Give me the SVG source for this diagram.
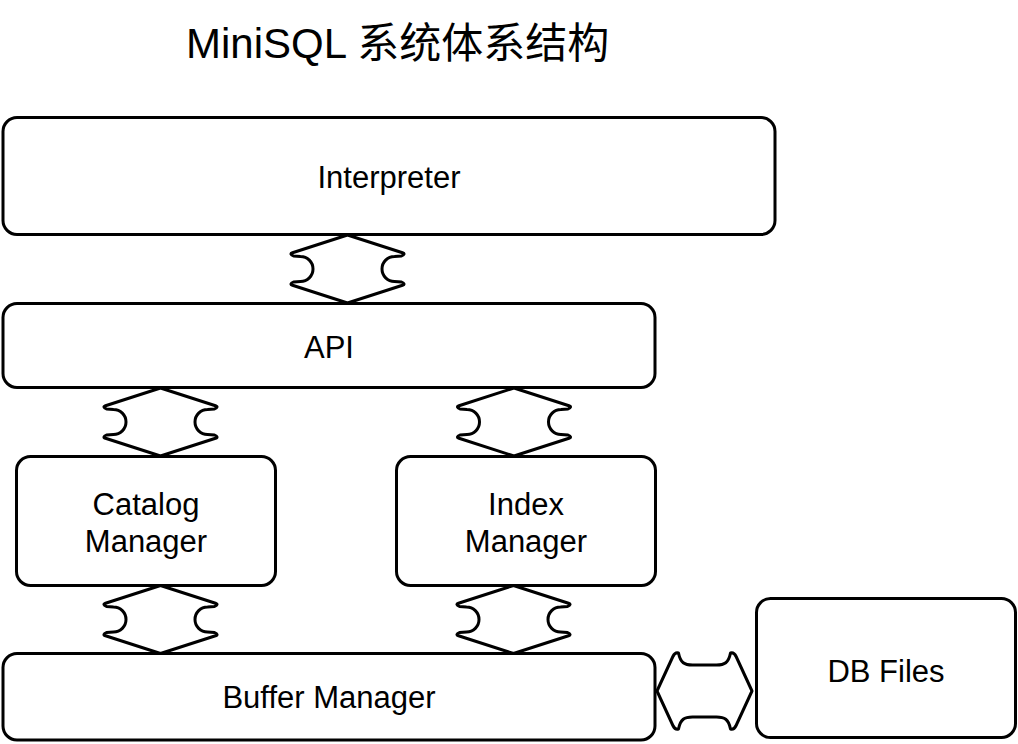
<svg xmlns="http://www.w3.org/2000/svg" width="1018" height="744" viewBox="0 0 1018 744">
<style>
.box{fill:#fff;stroke:#000;stroke-width:3}
.conn{fill:#fff;stroke:#000;stroke-width:3;stroke-linejoin:round}
.lbl{font-family:"Liberation Sans",Arial,"Noto Sans CJK SC",sans-serif;font-size:31px;fill:#000;text-anchor:middle}
.title{font-family:"Liberation Sans",Arial,"Noto Sans CJK SC",sans-serif;font-size:42px;fill:#000}
</style>
<defs>
<path id="vconn" d="M0,-34 L55,-16.3 Q58.5,-15 54,-13 L47,-12.5 A12.5,12.5 0 0 0 47,12.5 L54,13 Q58.5,15 55,16.3 L0,34 L-55,16.3 Q-58.5,15 -54,13 L-47,12.5 A12.5,12.5 0 0 0 -47,-12.5 L-54,-13 Q-58.5,-15 -55,-16.3 Z"/>
</defs>
<rect width="1018" height="744" fill="#fff"/>
<text class="title" x="186" y="58">MiniSQL 系统体系结构</text>
<g id="connectors">
<use href="#vconn" class="conn" transform="translate(347.5,269)"/>
<use href="#vconn" class="conn" transform="translate(160.5,422)"/>
<use href="#vconn" class="conn" transform="translate(514,422)"/>
<use href="#vconn" class="conn" transform="translate(160.5,619.5)"/>
<use href="#vconn" class="conn" transform="translate(513.5,619.5)"/>
<path class="conn" transform="translate(704.5,691)" d="M-47.5,0 L-31.6,-34.5 Q-29.5,-39 -26,-38 C-24,-28 -20,-26 -12,-26 L12,-26 C20,-26 24,-28 26,-38 Q29.5,-39 31.6,-34.5 L47.5,0 L31.6,34.5 Q29.5,39 26,38 C24,28 20,26 12,26 L-12,26 C-20,26 -24,28 -26,38 Q-29.5,39 -31.6,34.5 Z"/>
</g>
<g id="interpreter">
<rect class="box" x="3" y="117.5" width="772" height="117" rx="14"/>
<text class="lbl" x="389" y="188">Interpreter</text>
</g>
<g id="api">
<rect class="box" x="3" y="303.5" width="652" height="84" rx="14"/>
<text class="lbl" x="329" y="358">API</text>
</g>
<g id="catalog">
<rect class="box" x="16.5" y="456.5" width="259" height="129" rx="14"/>
<text class="lbl" x="146" y="515">Catalog</text>
<text class="lbl" x="146" y="552">Manager</text>
</g>
<g id="index">
<rect class="box" x="396.5" y="456.5" width="259" height="129" rx="14"/>
<text class="lbl" x="526" y="515">Index</text>
<text class="lbl" x="526" y="552">Manager</text>
</g>
<g id="buffer">
<rect class="box" x="3" y="653.5" width="652" height="86.5" rx="14"/>
<text class="lbl" x="329" y="708">Buffer Manager</text>
</g>
<g id="dbfiles">
<rect class="box" x="756.5" y="598.5" width="259" height="139" rx="14"/>
<text class="lbl" x="886" y="682">DB Files</text>
</g>
</svg>
